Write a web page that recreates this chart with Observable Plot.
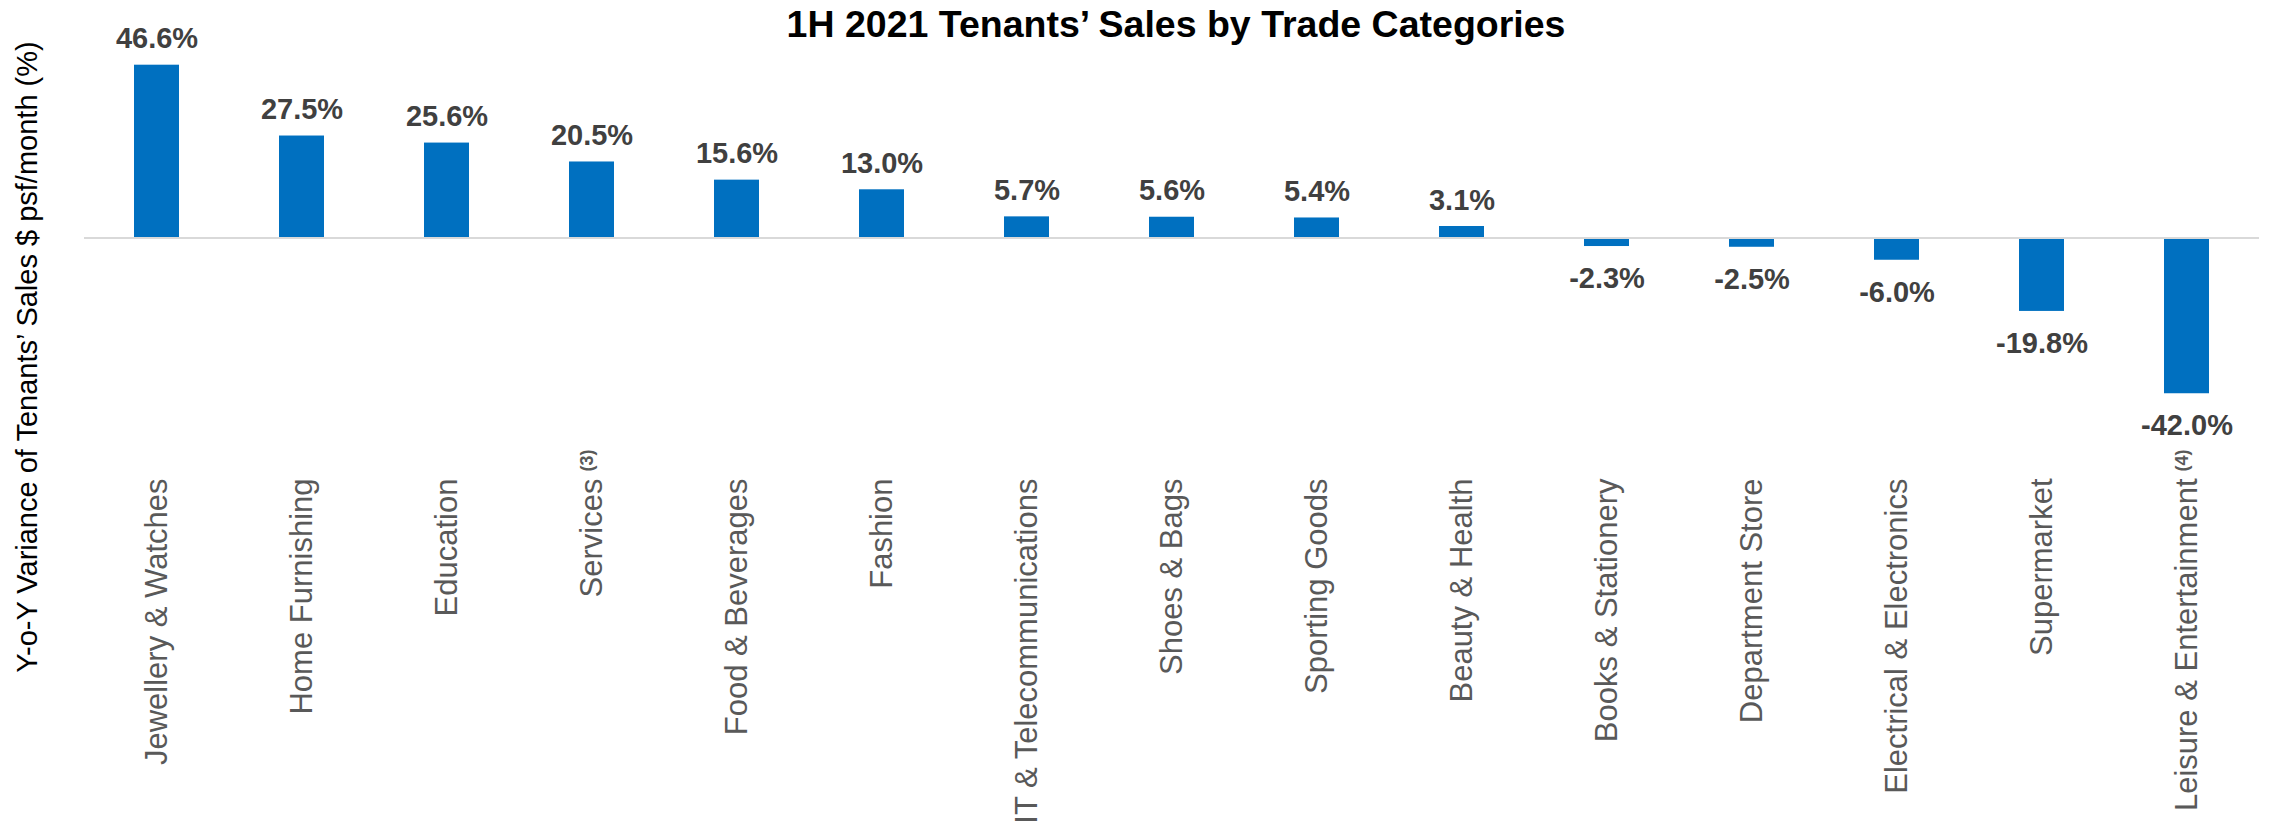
<!DOCTYPE html>
<html>
<head>
<meta charset="utf-8">
<script src="https://cdn.jsdelivr.net/npm/d3@7"></script>
<script src="https://cdn.jsdelivr.net/npm/@observablehq/plot@0.6"></script>
<style>
  body { margin: 0; background: #ffffff; }
  #chart { width: 2269px; height: 832px; overflow: hidden; }
</style>
</head>
<body>
<div id="chart"></div>
<script>
const titleText = "1H 2021 Tenants\u2019 Sales by Trade Categories";
const yTitle = "Y-o-Y Variance of Tenants\u2019 Sales $ psf/month (%)";
const categories = [
  "Jewellery & Watches", "Home Furnishing", "Education", "Services",
  "Food & Beverages", "Fashion", "IT & Telecommunications", "Shoes & Bags",
  "Sporting Goods", "Beauty & Health", "Books & Stationery", "Department Store",
  "Electrical & Electronics", "Supermarket", "Leisure & Entertainment"
];
const values = [46.6, 27.5, 25.6, 20.5, 15.6, 13.0, 5.7, 5.6, 5.4, 3.1, -2.3, -2.5, -6.0, -19.8, -42.0];
const footnotes = { "Services": "(3)", "Leisure & Entertainment": "(4)" };

const data = categories.map((c, i) => ({ category: c, value: values[i] }));
const fmt = d => d.value.toFixed(1) + "%";
const FONT = "'Liberation Sans', Arial, sans-serif";

const plot = Plot.plot({
  width: 2269,
  height: 832,
  marginLeft: 84,
  marginRight: 10,
  marginTop: 15,
  marginBottom: 372,
  style: { fontFamily: FONT, background: "#ffffff" },
  x: { domain: categories, paddingInner: 0.69, paddingOuter: 0.345, label: null },
  y: { domain: [-60, 60], axis: null },
  marks: [
    Plot.barY(data, { x: "category", y: "value", fill: "#0070C0" }),
    Plot.ruleY([0], { stroke: "#d9d9d9", strokeWidth: 2 }),
    Plot.text(data.filter(d => d.value >= 0), {
      x: "category", y: "value", text: fmt, lineAnchor: "bottom", dy: -17,
      fontSize: 29, fontWeight: "bold", fill: "#404040"
    }),
    Plot.text(data.filter(d => d.value < 0), {
      x: "category", y: "value", text: fmt, lineAnchor: "top", dy: 21,
      fontSize: 29, fontWeight: "bold", fill: "#404040"
    }),
    Plot.axisX({
      anchor: "bottom", tickSize: 0, tickRotate: -90, tickPadding: 18,
      fontSize: 31, fill: "#595959", label: null
    })
  ]
});

document.getElementById("chart").appendChild(plot);

const svg = d3.select(plot);
// footnote superscripts placed just beyond the end (top) of the rotated tick labels
svg.selectAll("g[aria-label='x-axis tick label'] text").each(function () {
  const label = this.textContent;
  if (footnotes[label]) {
    const clone = this.cloneNode(false);
    this.parentNode.appendChild(clone);
    d3.select(clone)
      .attr("text-anchor", "start")
      .attr("font-size", 18)
      .attr("font-weight", "bold")
      .attr("dx", 7)
      .attr("dy", -5)
      .text(footnotes[label]);
  }
});

// chart title
svg.append("text")
  .attr("x", 1176).attr("y", 37)
  .attr("text-anchor", "middle")
  .attr("font-family", FONT)
  .attr("font-size", 37.5)
  .attr("font-weight", "bold")
  .attr("fill", "#000000")
  .text(titleText);

// y-axis title
svg.append("text")
  .attr("transform", "translate(37,357) rotate(-90)")
  .attr("text-anchor", "middle")
  .attr("font-family", FONT)
  .attr("font-size", 29)
  .attr("fill", "#000000")
  .text(yTitle);
</script>
</body>
</html>
